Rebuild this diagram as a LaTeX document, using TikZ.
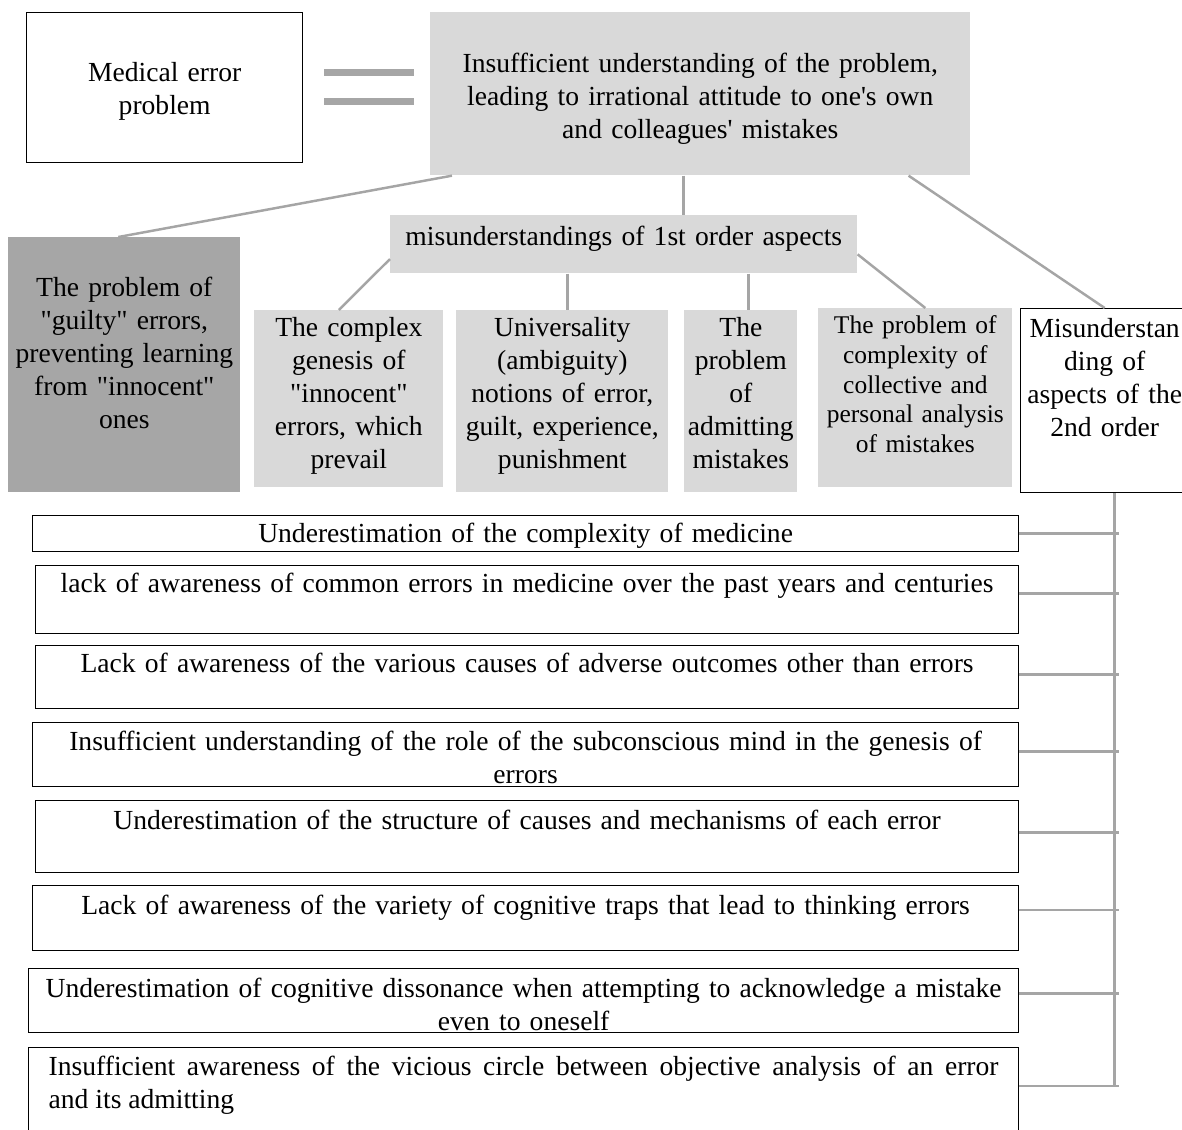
\documentclass[tikz,border=0pt]{standalone}
\usepackage{fontspec}
\setmainfont{Liberation Serif}
\usepackage{tikz}
\usetikzlibrary{calc}
\definecolor{paper}{HTML}{FFFFFF}
\definecolor{ink}{HTML}{000000}
\definecolor{light}{HTML}{D9D9D9}
\definecolor{dark}{HTML}{A6A6A6}
\definecolor{wire}{HTML}{A5A5A5}
\newcommand\qq{\textquotedbl}
\tikzset{
  cell/.style={anchor=north west, inner sep=0pt, align=center, font=\fontsize{15.7}{18.8}\selectfont},
  framed/.style={cell, draw=ink, line width=0.8pt, fill=paper},
  shaded/.style={cell, fill=light},
  row/.style={framed, inner xsep=0.2cm},
  link/.style={draw=wire, line width=1.4pt},
  eqbar/.style={draw=dark, line width=3.8pt},
}

\begin{document}
\begin{tikzpicture}[x=0.02cm, y=-0.02cm]
  \useasboundingbox[fill=paper] (0,0) rectangle (1182,1129);

  % top: problem = its cause
  \node[framed, text width=5.52cm, text height=1.38cm, text depth=1.62cm] (issue) at (26,12) {Medical error\\problem};
  \node[shaded, text width=10.8cm, text height=1.2cm, text depth=2.06cm] (core) at (430,12)
    {Insufficient understanding of the problem,\\leading to irrational attitude to one\textquotesingle s own\\and colleagues\textquotesingle{} mistakes};
  \draw[eqbar] ($(issue.east)+(21,-15)$) -- ++(90,0);
  \draw[eqbar] ($(issue.east)+(21,14)$) -- ++(90,0);

  % second level
  \node[cell, fill=dark, text width=4.64cm, text height=1.18cm, text depth=3.92cm] (guilty) at (8,237)
    {The problem of\\\qq guilty\qq{} errors,\\preventing learning\\from \qq innocent\qq\\ones};
  \node[shaded, text width=9.34cm, text height=0.6cm, text depth=0.56cm] (first) at (390,215)
    {misunderstandings of 1st order aspects};
  \node[framed, text width=3.36cm, text height=0.58cm, text depth=3.1cm] (second) at (1020,308)
    {Misunderstan\\ding of\\aspects of the\\2nd order};

  % 1st order aspects
  \node[shaded, text width=3.78cm, text height=0.52cm, text depth=3.02cm] (genesis) at (254,310)
    {The complex\\genesis of\\\qq innocent\qq\\errors, which\\prevail};
  \node[shaded, text width=4.24cm, text height=0.52cm, text depth=3.12cm] (univ) at (456,310)
    {Universality\\(ambiguity)\\notions of error,\\guilt, experience,\\punishment};
  \node[shaded, text width=2.26cm, text height=0.52cm, text depth=3.12cm] (admit) at (684,310)
    {The\\problem\\of\\admitting\\mistakes};
  \node[shaded, text width=3.88cm, text height=0.5cm, text depth=3.08cm, font=\fontsize{14.5}{17}\selectfont] (collect) at (818,308)
    {The problem of\\complexity of\\collective and\\personal analysis\\of mistakes};

  \draw[link] ($(core.south west)+(22,0)$) -- ($(guilty.north)+(-6,0)$);
  \draw[link] ($(core.south)+(-17,0)$) coordinate (c1) -- (c1 |- first.north);
  \draw[link] ($(core.south east)+(-62,0)$) -- (second.north);
  \draw[link] ($(first.south west)!0.5!(first.west)$) -- ($(genesis.north)+(-10,0)$);
  \draw[link] ($(first.south)+(-56.5,0)$) coordinate (c2) -- (c2 |- univ.north);
  \draw[link] ($(first.south)+(124.5,0)$) coordinate (c3) -- (c3 |- admit.north);
  \draw[link] ($(first.east)+(0,10)$) -- ($(collect.north)+(10,0)$);

  % 2nd order aspects
  \node[row, text width=19.32cm, text height=0.54cm, text depth=0.18cm] (med) at (32,515)
    {Underestimation of the complexity of medicine};
  \node[row, text width=19.26cm, text height=0.54cm, text depth=0.82cm] (hist) at (35,565)
    {lack of awareness of common errors in medicine over the past years and centuries};
  \node[row, text width=19.26cm, text height=0.54cm, text depth=0.72cm] (cause) at (35,645)
    {Lack of awareness of the various causes of adverse outcomes other than errors};
  \node[row, text width=19.32cm, text height=0.56cm, text depth=0.72cm] (subc) at (32,722)
    {Insufficient understanding of the role of the subconscious mind in the genesis of\\errors};
  \node[row, text width=19.26cm, text height=0.58cm, text depth=0.86cm] (struc) at (35,800)
    {Underestimation of the structure of causes and mechanisms of each error};
  \node[row, text width=19.32cm, text height=0.58cm, text depth=0.72cm] (trap) at (32,885)
    {Lack of awareness of the variety of cognitive traps that lead to thinking errors};
  \node[row, inner xsep=0pt, text width=19.8cm, text height=0.58cm, text depth=0.7cm] (disso) at (28,968)
    {Underestimation of cognitive dissonance when attempting to acknowledge a mistake\\even to oneself};
  \node[row, inner xsep=0.4cm, align=justify, text width=19cm, text height=0.56cm, text depth=1.7cm] (circ) at (28,1047)
    {Insufficient awareness of the vicious circle between objective analysis of an error\linebreak and its admitting};

  \coordinate (spine) at ($(second.south)+(10,0)$);
  \coordinate (tip) at ($(spine)+(4,0)$);
  \foreach \row/\f in {med/0.5, hist/0.41, cause/0.46, subc/0.45, struc/0.44, trap/0.38, disso/0.39, circ/0.34}
    \draw[link] ($(\row.north east)!\f!(\row.south east)$) coordinate (x\row) -- (x\row -| tip);
  \draw[link] (spine) -- (spine |- xcirc);
\end{tikzpicture}
\end{document}
